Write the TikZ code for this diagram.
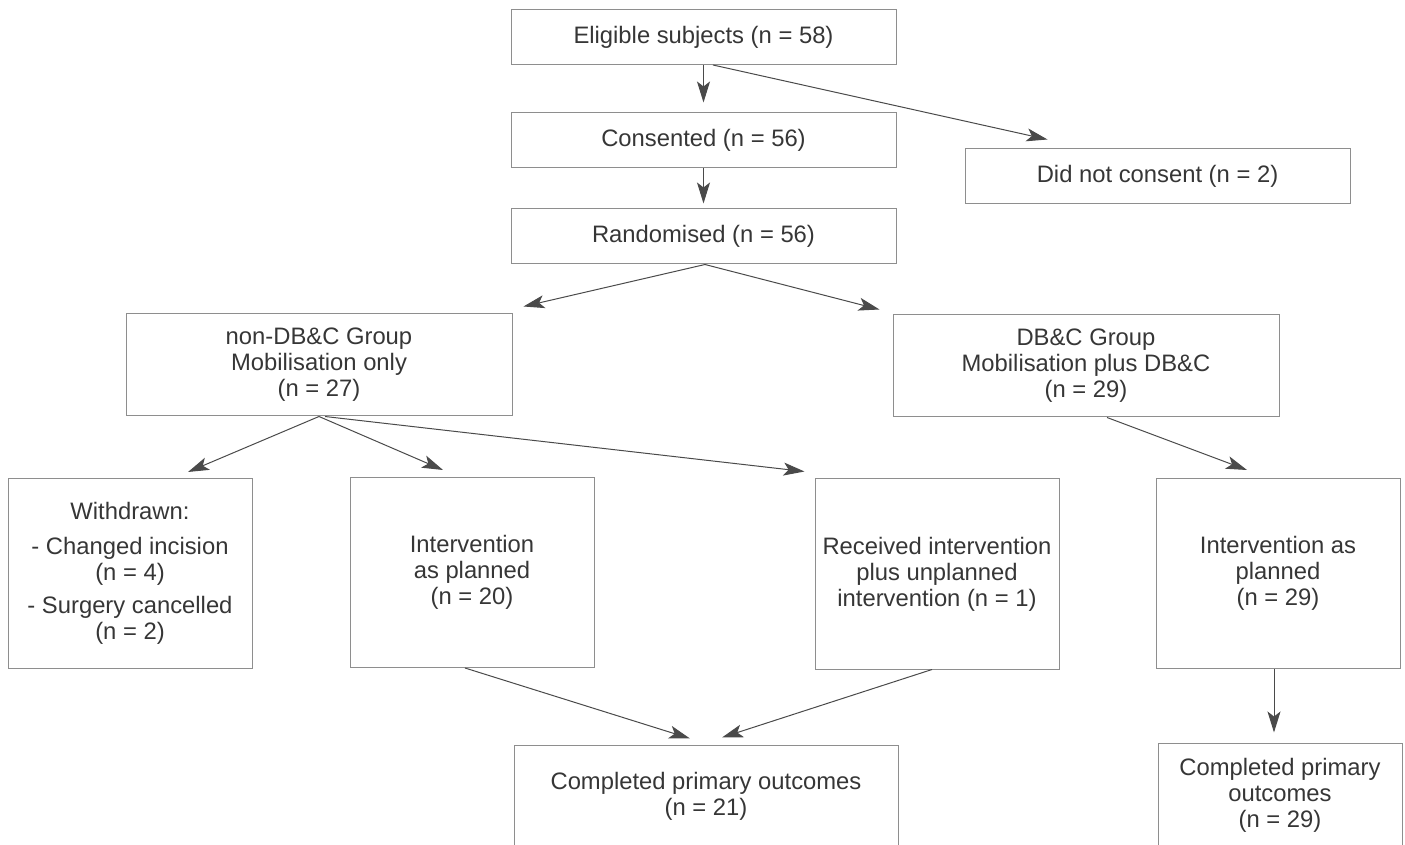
\documentclass[tikz,border=0pt]{standalone}
\usepackage{fontspec}
\setmainfont{Liberation Sans}
\usetikzlibrary{arrows.meta}

\definecolor{boxgray}{HTML}{8E8E8E}
\definecolor{txtgray}{HTML}{363636}
\definecolor{arrgray}{HTML}{4A4A4A}

\begin{document}
\begin{tikzpicture}[
    x=0.5pt, y=-0.5pt,
    font=\fontsize{11.9}{13}\selectfont,
    block/.style={draw=boxgray, line width=0.5pt, rectangle, align=center, text=txtgray, inner sep=0pt},
    wide/.style={block, minimum width=192.5pt, minimum height=27.5pt},
    group/.style={block, minimum width=193pt, minimum height=51pt},
    tall/.style={block, minimum width=122pt, minimum height=95pt},
    arrow/.style={draw=arrgray, line width=0.5pt, -{Stealth[length=10.5pt, width=6.5pt, inset=2.5pt]}}
]
    \useasboundingbox (0,0) rectangle (1405,845);
    \clip (0,0) rectangle (1405,845);

    % Boksene ovenfra og ned
    \node [wide] (elig) at (703.5,37) {Eligible subjects (n = 58)};
    \node [wide] (cons) at (703.5,140.5) {Consented (n = 56)};
    \node [wide] (nocons) at (1157.5,176.5) {Did not consent (n = 2)};
    \node [wide] (rand) at (703.5,236.5) {Randomised (n = 56)};

    \node [group] (nondbc) at (319,365) {non-DB\&C Group\\Mobilisation only\\(n = 27)};
    \node [group] (dbc) at (1086,366) {DB\&C Group\\Mobilisation plus DB\&C\\(n = 29)};

    \node [tall] (withdr) at (130,573.5) {Withdrawn:\\[4.5pt]- Changed incision\\(n = 4)\\[3.5pt]- Surgery cancelled\\(n = 2)};
    \node [tall] (intervl) at (472,572.5) {Intervention\\as planned\\(n = 20)};
    \node [tall] (recv) at (937,574) {Received intervention\\plus unplanned\\intervention (n = 1)};
    \node [tall] (intervr) at (1278,573.5) {Intervention as\\planned\\(n = 29)};

    \node [group, minimum width=192pt] (compl) at (706,796) {Completed primary outcomes\\(n = 21)};
    \node [block, minimum width=122pt, minimum height=52pt] (compr) at (1280,795) {Completed primary\\outcomes\\(n = 29)};

    % Pilene
    \draw [arrow, shorten >=5pt] (elig) -- (cons);
    \draw [arrow] ([xshift=4.75pt]elig.south) -- ([xshift=41.5pt,yshift=4.5pt]nocons.north west);
    \draw [arrow, shorten >=2.5pt] (cons) -- (rand);
    \draw [arrow] ([xshift=0.75pt]rand.south) -- ([xshift=5.5pt,yshift=3.5pt]nondbc.north east);
    \draw [arrow] ([xshift=0.75pt]rand.south) -- ([xshift=-6.5pt,yshift=2.5pt]dbc.north west);

    \draw [arrow] (nondbc.south) -- ([xshift=29pt,yshift=3pt]withdr.north);
    \draw [arrow] (nondbc.south) -- ([xshift=-14.5pt,yshift=3.5pt]intervl.north);
    \draw [arrow] ([xshift=3pt]nondbc.south) -- ([xshift=-5pt,yshift=3.5pt]recv.north west);
    \draw [arrow] ([xshift=10.5pt]dbc.south) -- ([xshift=-15.5pt,yshift=4pt]intervr.north);

    \draw [arrow] ([xshift=-3.5pt]intervl.south) -- ([xshift=-8pt,yshift=3pt]compl.north);
    \draw [arrow] ([xshift=-2.5pt]recv.south) -- ([xshift=8pt,yshift=3.5pt]compl.north);
    \draw [arrow] ([xshift=-2pt]intervr.south) -- ([xshift=-3pt,yshift=5pt]compr.north);

\end{tikzpicture}
\end{document}
